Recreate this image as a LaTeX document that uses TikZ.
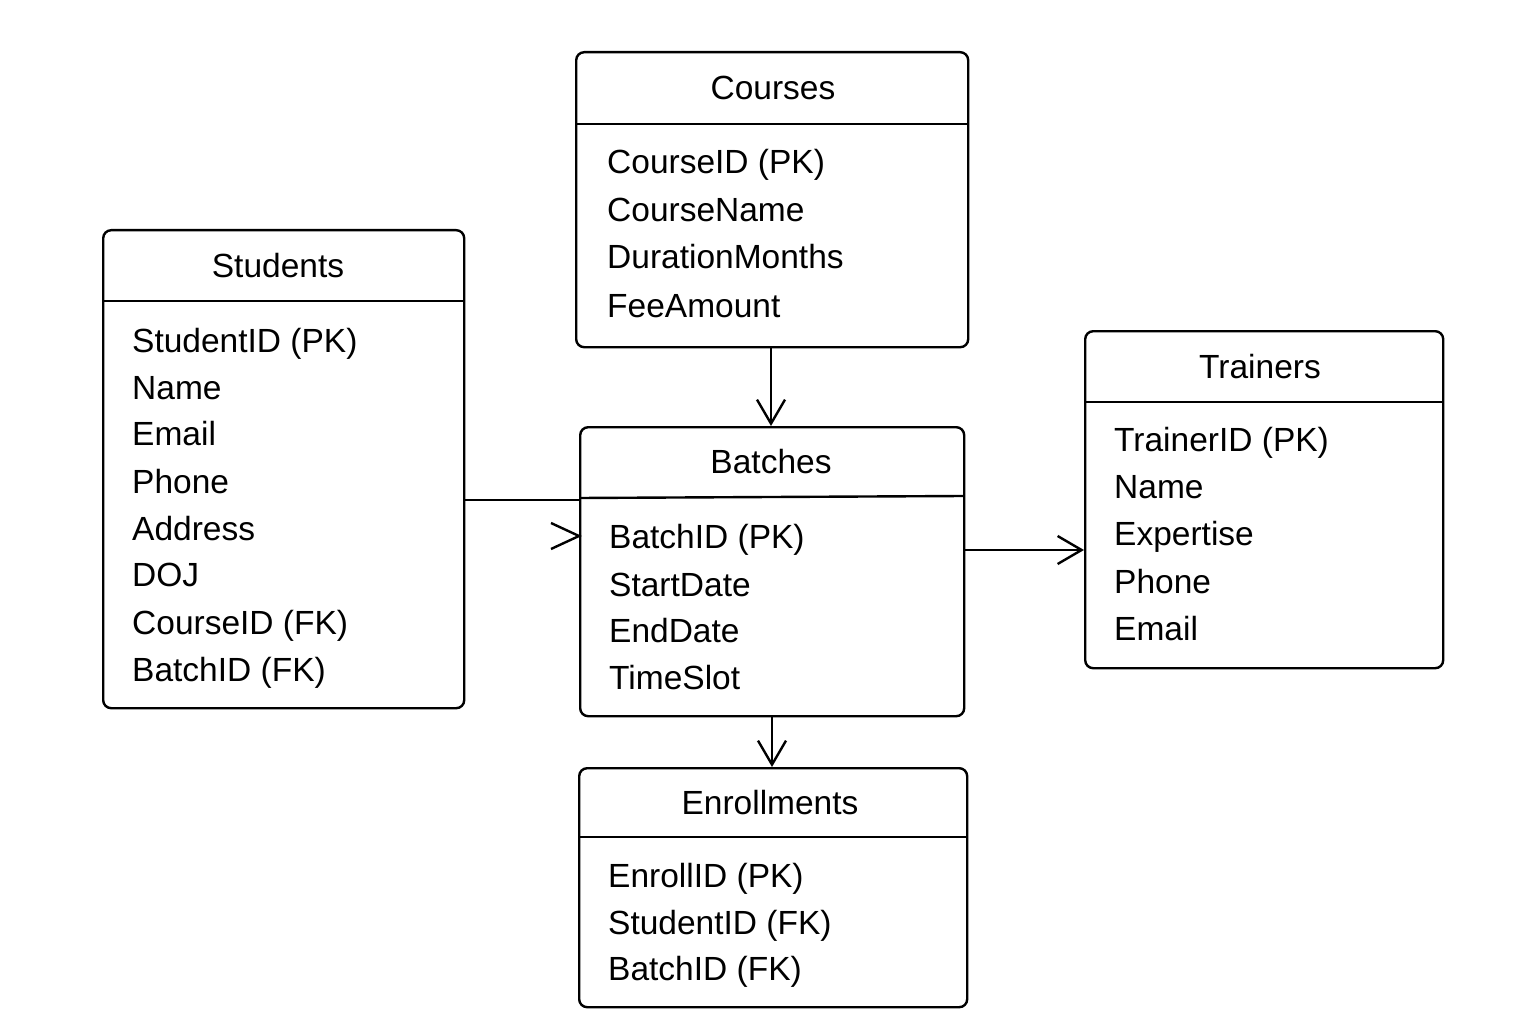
\documentclass[tikz,border=0pt]{standalone}
\usepackage{fontspec}
\setmainfont{Liberation Sans}
\usetikzlibrary{arrows.meta}
\begin{document}
\begin{tikzpicture}[x=1pt,y=-1pt,
  tbox/.style={draw,line width=2.4pt,rounded corners=8pt,anchor=north west,inner sep=0pt},
  ttl/.style={font=\fontsize{33.5}{40}\selectfont,anchor=base},
  attr/.style={font=\fontsize{33.5}{40}\selectfont,anchor=base west,inner sep=0pt},
  hline/.style={line width=2.4pt},
  conn/.style={line width=2.4pt},
  arr/.style={conn,-{Straight Barb[length=24pt,width=28pt,line width=2.4pt]}}]
\useasboundingbox (0,0) rectangle (1536,1024);
% Courses
\node[tbox,minimum width=392pt,minimum height=295pt] (courses) at (575,51) {};
\draw[hline] (575,124) -- (967,124);
\node[ttl] (coursesT) at (773,100) {Courses};
\node[attr] (c1) at (607,174) {CourseID (PK)};
\node[attr] (c2) at (607,222) {CourseName};
\node[attr] (c3) at (607,269) {DurationMonths};
\node[attr] (c4) at (607,317) {FeeAmount};
% Students
\node[tbox,minimum width=361pt,minimum height=478pt] (students) at (102,229) {};
\draw[hline] (102,301) -- (463,301);
\node[ttl] (studentsT) at (278,277) {Students};
\node[attr] (s1) at (132,352) {StudentID (PK)};
\node[attr] (s2) at (132,399) {Name};
\node[attr] (s3) at (132,445) {Email};
\node[attr] (s4) at (132,493) {Phone};
\node[attr] (s5) at (132,540) {Address};
\node[attr] (s6) at (132,586) {DOJ};
\node[attr] (s7) at (132,634) {CourseID (FK)};
\node[attr] (s8) at (132,681) {BatchID (FK)};
% Batches
\node[tbox,minimum width=384pt,minimum height=289pt] (batches) at (579,426) {};
\draw[hline] (579,498) -- (963,496);
\node[ttl] (batchesT) at (771,473) {Batches};
\node[attr] (b1) at (609,548) {BatchID (PK)};
\node[attr] (b2) at (609,596) {StartDate};
\node[attr] (b3) at (609,642) {EndDate};
\node[attr] (b4) at (609,689) {TimeSlot};
% Trainers
\node[tbox,minimum width=358pt,minimum height=337pt] (trainers) at (1084,330) {};
\draw[hline] (1084,402) -- (1442,402);
\node[ttl] (trainersT) at (1260,378) {Trainers};
\node[attr] (t1) at (1114,451) {TrainerID (PK)};
\node[attr] (t2) at (1114,498) {Name};
\node[attr] (t3) at (1114,545) {Expertise};
\node[attr] (t4) at (1114,593) {Phone};
\node[attr] (t5) at (1114,640) {Email};
% Enrollments
\node[tbox,minimum width=388pt,minimum height=239pt] (enroll) at (578,767) {};
\draw[hline] (578,837) -- (966,837);
\node[ttl] (enrollT) at (770,814) {Enrollments};
\node[attr] (e1) at (608,887) {EnrollID (PK)};
\node[attr] (e2) at (608,934) {StudentID (FK)};
\node[attr] (e3) at (608,980) {BatchID (FK)};
% connectors
\draw[arr] (courses.south -| 771,0) -- (batches.north -| 771,0);
\draw[arr] (batches.east |- 0,550) -- (trainers.west |- 0,550);
\draw[arr] (batches.south -| 772,0) -- (enroll.north -| 772,0);
\draw[conn] (students.east |- 0,500) -- (batches.west |- 0,500);
\coordinate (sbA) at (551,523);
\coordinate (sbB) at (551,549);
\draw[conn] (sbA) -- (batches.west |- 0,536) -- (sbB);
\end{tikzpicture}
\end{document}
